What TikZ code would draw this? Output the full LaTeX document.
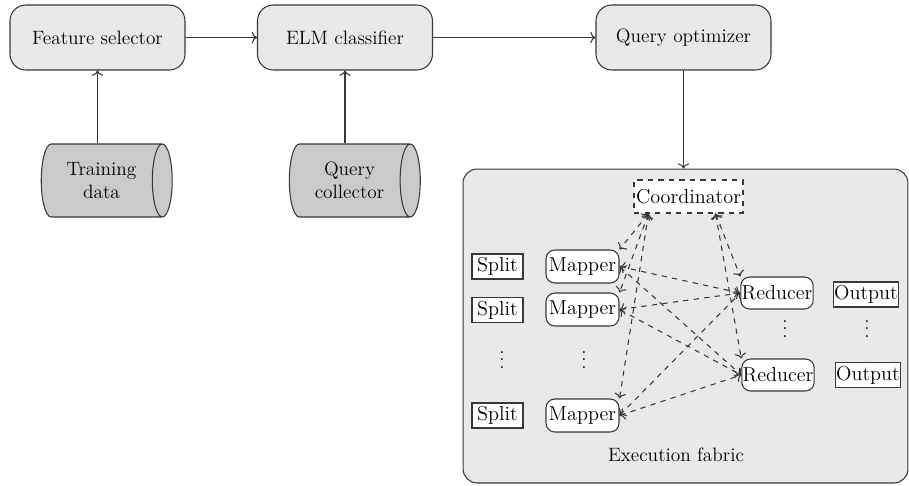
\documentclass[tikz,border=0pt]{standalone}
\usepackage{tikz}
\usetikzlibrary{arrows, arrows.meta, shapes.geometric}
\definecolor{boxgray}{HTML}{E8E9EA}
\definecolor{dbgray}{HTML}{C9CACC}
\definecolor{linegray}{HTML}{383838}

\begin{document}
\begin{tikzpicture} [x = 0.02cm, y = -0.02cm, font = \fontsize{11}{13}\selectfont, line width = .6pt,
  >={To[length = 3pt, width = 6.5pt]},
  block/.style = {draw = linegray, fill = boxgray, rounded corners = 9pt, minimum width = 3.5cm, minimum height = 1.3cm},
  store/.style = {draw = linegray, fill = dbgray, cylinder, shape aspect = .55, minimum width = 1.46cm, minimum height = 2.62cm, align = center, inner sep = 0pt},
  task/.style = {draw = linegray, fill = white, rounded corners = 5pt, inner sep = .5pt, font = \fontsize{11.5}{13}\selectfont, minimum width = 1.46cm, minimum height = .66cm},
  plain/.style = {draw = linegray, fill = white, inner sep = .5pt, font = \fontsize{11.5}{13}\selectfont, minimum height = .5cm},
  dots/.style = {align = center, inner sep = 0pt, font = \fontsize{11}{4.2}\selectfont},
  link/.style = {<->, dashed, linegray}]
\useasboundingbox (0,0) rectangle (909,485);
\node[block] (fs) at (97.5,37.5) {Feature selector};
\node[block] (elm) at (345,37.5) {ELM classifier};
\node[block] (qo) at (683.5,37.5) {Query optimizer};
\node[store] (td) at (101.5,180.5) {Training\\data};
\node[store] (qc) at (349.5,180.5) {Query\\collector};
\node[draw = linegray, fill = boxgray, rounded corners = 8pt, minimum width = 8.9cm, minimum height = 6.28cm] (fab) at (685.5,326) {};
\node (fabl) at (676,455) {Execution fabric};
\node[draw = linegray, dashed, fill = white, inner sep = .5pt, font = \fontsize{11.5}{13}\selectfont, minimum width = 2.18cm, minimum height = .66cm] (crd) at (688.5,196.5) {Coordinator};
\node[plain, minimum width = 1.02cm] (s1) at (497.5,266.5) {Split};
\node[plain, minimum width = 1.02cm] (s2) at (497.5,310) {Split};
\node[plain, minimum width = 1.02cm] (s3) at (497.5,415.5) {Split};
\node[dots] (sd) at (502,360) {.\\.\\.};
\node[task] (m1) at (582.5,266.5) {Mapper};
\node[task] (m2) at (582.5,309.5) {Mapper};
\node[task] (m3) at (582.5,415.5) {Mapper};
\node[dots] (md) at (584,360) {.\\.\\.};
\node[task, minimum width = 1.44cm, minimum height = .64cm] (r1) at (777,293) {Reducer};
\node[task, minimum width = 1.44cm, minimum height = .64cm] (r2) at (778,375) {Reducer};
\node[dots] (rd) at (785,329) {.\\.\\.};
\node[plain, minimum width = 1.28cm] (o1) at (866,294.5) {Output};
\node[plain, minimum width = 1.28cm] (o2) at (868,375) {Output};
\node[dots] (od) at (867,329) {.\\.\\.};
\coordinate (cl) at ([xshift = -.8cm]crd.south);
\coordinate (cr) at ([xshift = .54cm]crd.south);
\draw [->, linegray] (fs) -- (elm);
\draw [->, linegray] (elm) -- (qo);
\draw [->, linegray] (td.north -| fs.south) -- (fs.south);
\draw [->, linegray] (qc.north -| elm.south) -- (elm.south);
\draw [->, linegray] (qo.south) -- (qo.south |- fab.north);
\draw [link] (cl) -- (m1.north east);
\draw [link] (cl) -- (m2.north east);
\draw [link] (cl) -- (m3.north east);
\draw [link] (cr) -- (r1.north west);
\draw [link] (cr) -- (r2.north west);
\draw [link] (m1.east) -- (r1.west);
\draw [link] (m1.east) -- (r2.west);
\draw [link] (m2.east) -- (r1.west);
\draw [link] (m2.east) -- (r2.west);
\draw [link] (m3.east) -- (r1.west);
\draw [link] (m3.east) -- (r2.west);
\end{tikzpicture}
\end{document}
